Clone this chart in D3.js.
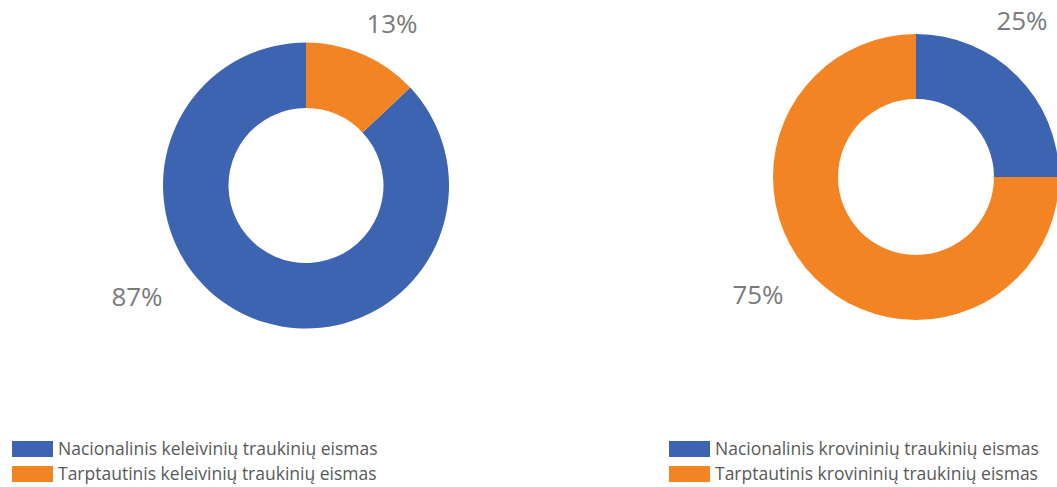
<!DOCTYPE html>
<html>
<head>
<meta charset="utf-8">
<script src="https://cdn.jsdelivr.net/npm/d3@7"></script>
<style>
  html, body { margin: 0; padding: 0; background: #fff; }
  svg { display: block; font-family: "Open Sans", sans-serif; }
</style>
</head>
<body>
<svg id="chart" width="1057" height="487"></svg>
<script>
// passenger (left) and freight (right) traffic shares
const leftCategories = ["Nacionalinis keleivinių traukinių eismas", "Tarptautinis keleivinių traukinių eismas"];
const leftValues = [87, 13];
const rightCategories = ["Nacionalinis krovininių traukinių eismas", "Tarptautinis krovininių traukinių eismas"];
const rightValues = [25, 75];
const colors = ["#3c64b1", "#f38424"];

const svg = d3.select("#chart");
const color = d3.scaleOrdinal().domain([0, 1]).range(colors);

function donut(cats, vals, opt) {
  const total = d3.sum(vals);
  const start = opt.rotate * Math.PI * 2;
  const pie = d3.pie().sort(null).startAngle(start).endAngle(start + Math.PI * 2);
  const arcs = pie(vals);
  const arc = d3.arc().innerRadius(opt.inner).outerRadius(opt.outer);

  const g = svg.append("g").attr("transform", `translate(${opt.cx},${opt.cy})`);
  g.selectAll("path")
    .data(arcs)
    .enter().append("path")
    .attr("d", arc)
    .attr("fill", (d, i) => color(i));

  // percent labels placed outside the ring
  g.selectAll("text.pct")
    .data(arcs)
    .enter().append("text")
    .attr("class", "pct")
    .attr("x", (d, i) => opt.labels[i][0])
    .attr("y", (d, i) => opt.labels[i][1])
    .attr("text-anchor", "middle")
    .attr("fill", "#7b7b7b")
    .attr("font-size", 26)
    .text(d => Math.round(d.data / total * 100) + "%");

  // legend
  const lg = svg.append("g").attr("transform", `translate(${opt.lx},441)`);
  const item = lg.selectAll("g")
    .data(cats)
    .enter().append("g")
    .attr("transform", (d, i) => `translate(0,${i * 25})`);
  item.append("rect")
    .attr("width", 41).attr("height", 16)
    .attr("fill", (d, i) => color(i));
  item.append("text")
    .attr("x", 46).attr("y", 14)
    .attr("fill", "#595959")
    .attr("font-size", 17.5)
    .text(d => d);
}

donut(leftCategories, leftValues, {
  cx: 306, cy: 185.5, outer: 143, inner: 77.5, rotate: 0.13,
  labels: [[-169, 120], [86, -153]], lx: 12
});
donut(rightCategories, rightValues, {
  cx: 916, cy: 177, outer: 143, inner: 78, rotate: 0,
  labels: [[106, -147], [-158, 127]], lx: 669
});
</script>
</body>
</html>
